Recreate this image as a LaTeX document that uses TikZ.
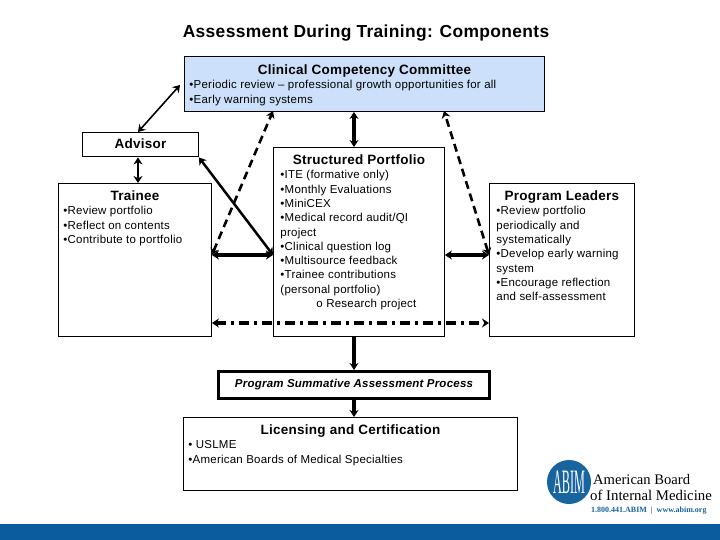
\documentclass[tikz,border=0pt]{standalone}
\usepackage{fontspec}
\usetikzlibrary{arrows.meta}
\setmainfont{Liberation Sans}[LetterSpace=2]
\newfontfamily\logofont{Liberation Serif}
\definecolor{ccblue}{HTML}{CCE0FB}
\definecolor{bandblue}{HTML}{0B5C9E}
\definecolor{logoblue}{HTML}{17649F}

% text of a box: width, height, content
\newcommand{\boxbody}[3]{\parbox[c][#2][t]{#1}{\fontsize{11.5}{14.3}\selectfont\raggedright #3}}
\newcommand{\boxhead}[1]{{\centering\fontsize{13.5}{14.3}\selectfont\bfseries #1\par}\vspace{0.3pt}}

\begin{document}
\begin{tikzpicture}[x=1pt,y=-1pt,>={Stealth[length=7pt,width=9pt]},
  plainbox/.style={draw,line width=0.9pt,anchor=north west,inner xsep=5pt,inner ysep=0pt},
  thinlink/.style={line width=1.6pt},
  midlink/.style={line width=2.5pt},
  heavylink/.style={line width=3.2pt},
  dashlink/.style={line width=2.6pt,dash pattern=on 8pt off 5pt},
  dotlink/.style={line width=3.4pt,dash pattern=on 10pt off 5pt on 3pt off 5pt}]
\useasboundingbox (0,0) rectangle (720,540);

\fill[bandblue] (0,524) rectangle (720,540);

\node (title) at (366,33) {\fontsize{17.4}{18}\selectfont\bfseries Assessment During Training: Components};

\node (ccc) [plainbox,fill=ccblue] at (184,56) {\boxbody{350pt}{55pt}{\vspace*{8pt}\boxhead{Clinical Competency Committee}
  •Periodic review – professional growth opportunities for all\\
  •Early warning systems}};
\node (advisor) [plainbox] at (82,132) {\boxbody{106pt}{24.5pt}{\vspace*{6pt}\boxhead{Advisor}}};
\node (trainee) [plainbox] at (58,183) {\boxbody{143pt}{153pt}{\vspace*{7pt}\boxhead{Trainee}
  •Review portfolio\\
  •Reflect on contents\\
  •Contribute to portfolio}};
\node (portfolio) [plainbox,inner xsep=7pt] at (273,147) {\boxbody{157pt}{189pt}{\vspace*{7pt}\boxhead{Structured Portfolio}
  •ITE (formative only)\\
  •Monthly Evaluations\\
  •MiniCEX\\
  •Medical record audit/QI\\
  project\\
  •Clinical question log\\
  •Multisource feedback\\
  •Trainee contributions\\
  (personal portfolio)\\
  \hspace*{36pt}o Research project}};
\node (leaders) [plainbox,inner xsep=7pt] at (489,183) {\boxbody{131pt}{153pt}{\vspace*{7pt}\boxhead{Program Leaders}
  •Review portfolio\\
  periodically and\\
  systematically\\
  •Develop early warning\\
  system\\
  •Encourage reflection\\
  and self-assessment}};
\node (summative) [plainbox,line width=3pt,minimum width=271pt,minimum height=27pt,anchor=center] at (354,385)
  {\fontsize{11.5}{14}\selectfont\bfseries\itshape\raisebox{1pt}{Program Summative Assessment Process}};
\node (licensing) [plainbox] at (183,417) {\boxbody{324pt}{73pt}{\vspace*{7pt}\boxhead{Licensing and Certification}
  • USLME\\
  •American Boards of Medical Specialties}};

\coordinate (stem) at (354,0);
\coordinate (midrow) at (0,255);
\coordinate (dashrow) at (0,323);
\coordinate (cccleft) at (273,111);
\coordinate (cccright) at (444,111);
\coordinate (cccside) at (180,85);
\coordinate (advisortop) at (138,132);

\draw[thinlink,<->] (cccside) -- (advisortop);
\draw[midlink,<->] (advisor.south -| advisortop) -- (trainee.north -| advisortop);
\draw[heavylink,<->] (ccc.south -| stem) -- (portfolio.north -| stem);
\draw[dashlink,<->] (trainee.east |- midrow) -- (cccleft);
\draw[dashlink,<->] (leaders.west |- midrow) -- (cccright);
\draw[midlink,<->] (advisor.south east) -- (portfolio.west |- midrow);
\draw[heavylink,<->] (trainee.east |- midrow) -- (portfolio.west |- midrow);
\draw[heavylink,<->] (portfolio.east |- midrow) -- (leaders.west |- midrow);
\draw[dotlink,<->] (trainee.east |- dashrow) -- (leaders.west |- dashrow);
\draw[heavylink,->] (portfolio.south -| stem) -- (summative.north -| stem);
\draw[heavylink,->] (summative.south -| stem) -- (licensing.north -| stem);

% logo
\node (seal) [circle,fill=logoblue,minimum size=44pt,inner sep=0pt] at (569,482)
  {\color{white}\logofont\scalebox{0.68}[1.9]{\fontsize{18}{18}\selectfont ABIM}};
\node (board) [anchor=west,inner sep=0pt] at (593,480) {\logofont\fontsize{14.6}{15}\selectfont American Board};
\node (abim) [anchor=west,inner sep=0pt] at (590,495) {\logofont\fontsize{14.8}{15}\selectfont of Internal Medicine};
\node (contact) [anchor=west,inner sep=0pt,logoblue] at (591,511) {\logofont\fontsize{8}{8}\selectfont\bfseries 1.800.441.ABIM \ | \ www.abim.org};
\end{tikzpicture}
\end{document}
